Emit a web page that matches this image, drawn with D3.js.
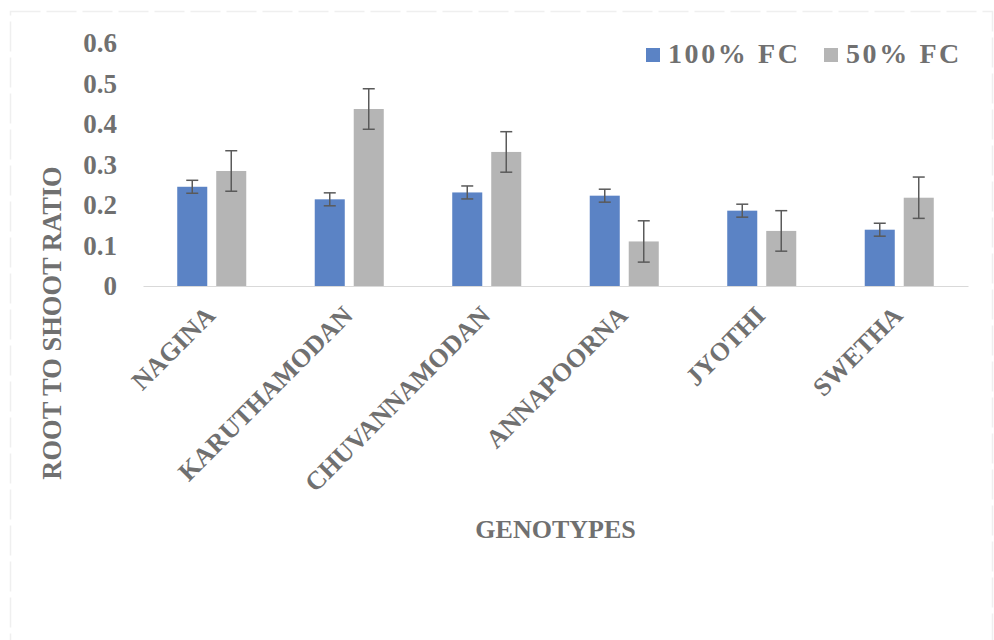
<!DOCTYPE html>
<html>
<head>
<meta charset="utf-8">
<script src="https://cdn.jsdelivr.net/npm/d3@7/dist/d3.min.js"></script>
<style>
  html, body { margin: 0; padding: 0; background: #ffffff; }
  svg { display: block; }
  text { font-family: "Liberation Serif", "Times New Roman", serif; font-weight: bold; fill: #707070; }
</style>
</head>
<body>
<svg id="chart" width="994" height="640"></svg>
<script>
// Root-to-shoot ratio of rice genotypes under two moisture regimes
const genotypes = ["NAGINA", "KARUTHAMODAN", "CHUVANNAMODAN", "ANNAPOORNA", "JYOTHI", "SWETHA"];
const seriesNames = ["100% FC", "50% FC"];
const fc100 = [0.245, 0.214, 0.231, 0.223, 0.186, 0.139];
const fc50  = [0.284, 0.437, 0.331, 0.110, 0.136, 0.218];
const err100 = [0.016, 0.016, 0.016, 0.016, 0.016, 0.016];
const err50  = [0.050, 0.050, 0.050, 0.051, 0.050, 0.051];
const yTicks = [0, 0.1, 0.2, 0.3, 0.4, 0.5, 0.6];
const colors = ["#5b83c5", "#b5b5b5"];

const svg = d3.select("#chart");

// faint outer frame
svg.append("rect")
  .attr("x", 10.5).attr("y", 11.5)
  .attr("width", 982).attr("height", 640)
  .attr("fill", "none").attr("stroke", "#efefef").attr("stroke-width", 1.5)
  .attr("stroke-dasharray", "30,6");

const plotLeft = 143, plotRight = 968, plotTop = 43, plotBottom = 286;

const x0 = d3.scaleBand().domain(genotypes).range([plotLeft, plotRight])
  .paddingInner(0.498).paddingOuter(0.249);
const x1 = d3.scaleBand().domain(seriesNames).range([0, x0.bandwidth()])
  .paddingInner(0.23).paddingOuter(0);
const y = d3.scaleLinear().domain([0, 0.6]).range([plotBottom, plotTop]);

const rows = genotypes.map((g, i) => ({
  g,
  vals: [
    { s: seriesNames[0], v: fc100[i], e: err100[i], c: colors[0] },
    { s: seriesNames[1], v: fc50[i], e: err50[i], c: colors[1] }
  ]
}));

// y tick labels (no axis line, no gridlines)
const yAxis = d3.axisLeft(y).tickValues(yTicks).tickSize(0).tickPadding(0)
  .tickFormat(d => d === 0 ? "0" : d3.format(".1f")(d));
const yg = svg.append("g").attr("transform", `translate(117,0)`).call(yAxis);
yg.select(".domain").remove();
yg.selectAll("text").attr("font-size", 27).attr("fill", "#707070")
  .attr("font-family", "Liberation Serif, serif").attr("font-weight", "bold");

// category axis baseline
const xg = svg.append("g").attr("transform", `translate(0,${plotBottom})`)
  .call(d3.axisBottom(x0).tickSize(0).tickFormat(""));
xg.select(".domain").attr("stroke", "#d9d9d9").attr("stroke-width", 1.2);

// bars
const groups = svg.append("g").selectAll("g").data(rows).join("g")
  .attr("transform", d => `translate(${x0(d.g)},0)`);

groups.selectAll("rect").data(d => d.vals).join("rect")
  .attr("x", d => x1(d.s))
  .attr("width", x1.bandwidth())
  .attr("y", d => y(d.v))
  .attr("height", d => y(0) - y(d.v))
  .attr("fill", d => d.c);

// error bars
const eb = groups.selectAll("g.err").data(d => d.vals).join("g").attr("class", "err")
  .attr("stroke", "#5a5a5a").attr("stroke-width", 1.5);
const cap = 6;
eb.append("line")
  .attr("x1", d => x1(d.s) + x1.bandwidth() / 2).attr("x2", d => x1(d.s) + x1.bandwidth() / 2)
  .attr("y1", d => y(d.v + d.e)).attr("y2", d => y(d.v - d.e));
eb.append("line")
  .attr("x1", d => x1(d.s) + x1.bandwidth() / 2 - cap).attr("x2", d => x1(d.s) + x1.bandwidth() / 2 + cap)
  .attr("y1", d => y(d.v + d.e)).attr("y2", d => y(d.v + d.e));
eb.append("line")
  .attr("x1", d => x1(d.s) + x1.bandwidth() / 2 - cap).attr("x2", d => x1(d.s) + x1.bandwidth() / 2 + cap)
  .attr("y1", d => y(d.v - d.e)).attr("y2", d => y(d.v - d.e));

// rotated category labels
svg.append("g").selectAll("text").data(genotypes).join("text")
  .attr("transform", d => `translate(${x0(d) + x0.bandwidth() / 2 + 5},${plotBottom + 31}) rotate(-45)`)
  .attr("text-anchor", "end")
  .attr("font-size", 26)
  .text(d => d);

// axis titles
svg.append("text")
  .attr("transform", `translate(61,323) rotate(-90)`)
  .attr("text-anchor", "middle")
  .attr("font-size", 26.5)
  .text("ROOT TO SHOOT RATIO");

svg.append("text")
  .attr("x", (plotLeft + plotRight) / 2).attr("y", 538)
  .attr("text-anchor", "middle")
  .attr("font-size", 26)
  .text("GENOTYPES");

// legend
const legendX = [646, 824];
const lg = svg.append("g").selectAll("g").data(seriesNames).join("g")
  .attr("transform", (d, i) => `translate(${legendX[i]},48)`);
lg.append("rect").attr("width", 14).attr("height", 14).attr("fill", (d, i) => colors[i]);
lg.append("text").attr("x", 22).attr("y", 15)
  .attr("font-size", 28).attr("letter-spacing", 2.6)
  .text(d => d);
</script>
</body>
</html>
